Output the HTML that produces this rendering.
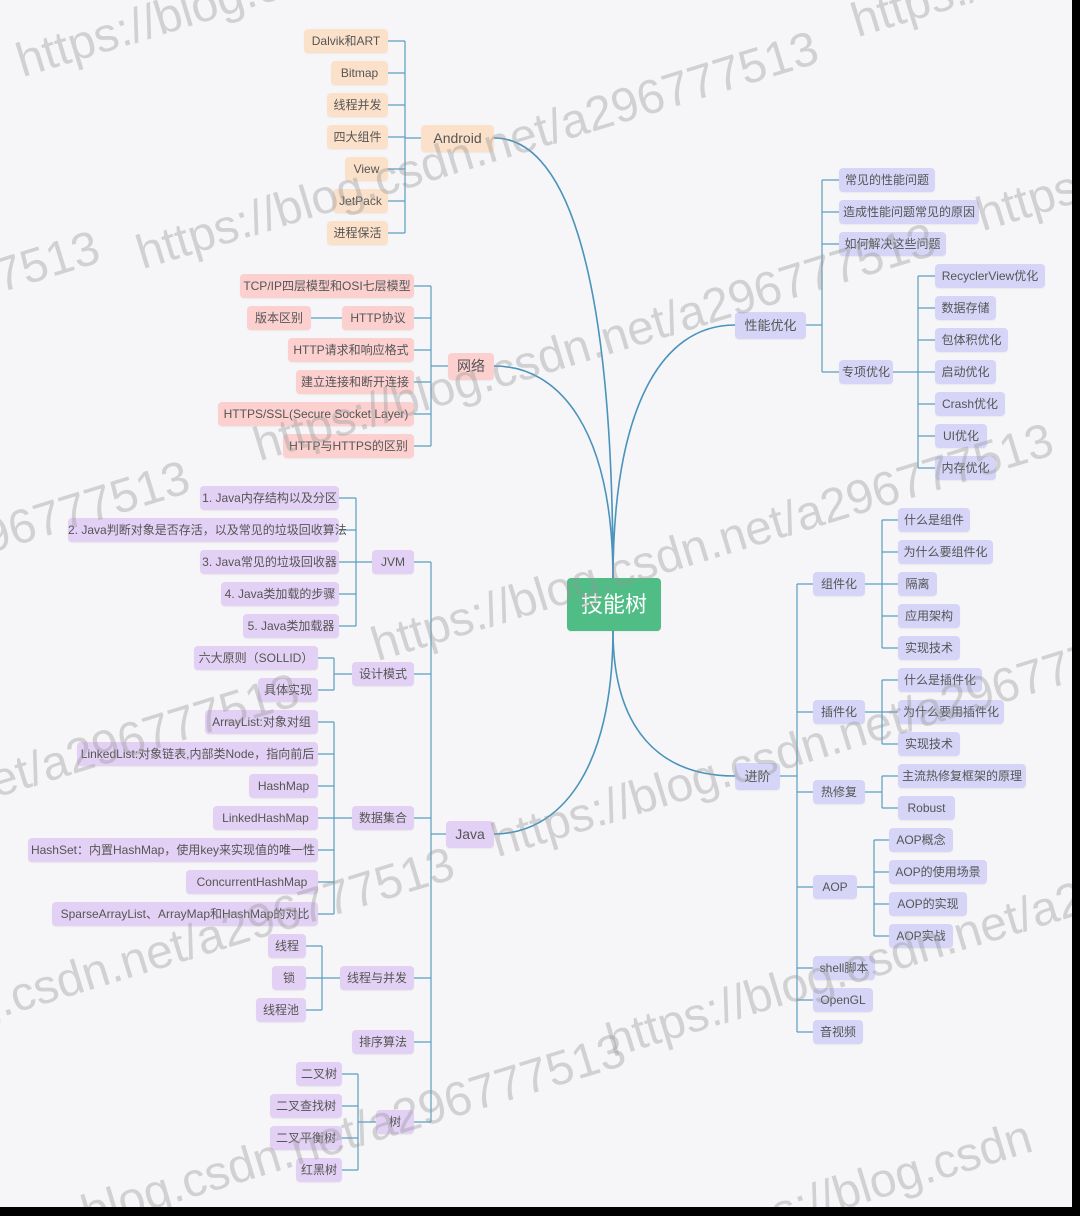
<!DOCTYPE html>
<html style="width:1080px;height:1216px;overflow:hidden;background:#f6f6f8"><head><meta charset="utf-8"><style>
html,body{margin:0;padding:0}
body{width:1080px;height:1216px;position:relative;overflow:hidden;background:#f6f6f8;font-family:"Liberation Sans","Noto Sans CJK SC",sans-serif}
.n{position:absolute;height:24px;line-height:24px;font-size:12px;color:#555;border-radius:4px;text-align:center;white-space:nowrap;box-shadow:0 1px 1px rgba(0,0,0,0.05)}
.a{background:#fbe1ca}.p{background:#fbd0cf}.j{background:#e3d1f5}.b{background:#d6d5f7}
.wm{position:absolute;font-size:48px;color:rgba(150,150,150,0.38);white-space:nowrap;transform-origin:0 100%;transform:rotate(-17deg);font-family:"Liberation Sans",sans-serif;line-height:1;z-index:5}
#edge-r{position:absolute;left:1072px;top:0;width:8px;height:1216px;background:#000;z-index:9}
#edge-b{position:absolute;left:0;top:1207px;width:1080px;height:9px;background:#000;z-index:9}
</style></head><body>
<svg width="1080" height="1216" style="position:absolute;left:0;top:0" fill="none" stroke="#5a9ec0" stroke-width="1.2">
<g stroke-width="1.6" stroke="#4a93bb">
<path d="M613,580 C613,250 560,138 494,138"/>
<path d="M613,580 C613,430 560,366 494,366"/>
<path d="M613,580 C613,410 660,325 735,325"/>
<path d="M613,630 C613,770 560,834 494,834"/>
<path d="M613,630 C613,730 660,776 735,776"/>
</g>
<path d="M405,41V233M421,138H405M388,41H405M388,73H405M388,105H405M388,137H405M388,169H405M388,201H405M388,233H405"/>
<path d="M431,286V446M448,366H431M414,286H431M414,318H431M414,350H431M414,382H431M414,414H431M414,446H431M311,318H342"/>
<path d="M356,498V626M372,562H356M339,498H356M339,530H356M339,562H356M339,594H356M339,626H356"/>
<path d="M334,658V690M352,674H334M318,658H334M318,690H334"/>
<path d="M334,722V914M352,818H334M318,722H334M318,754H334M318,786H334M318,818H334M318,850H334M318,882H334M318,914H334"/>
<path d="M322,946V1010M340,978H322M306,946H322M306,978H322M306,1010H322"/>
<path d="M358,1074V1170M376,1122H358M342,1074H358M342,1106H358M342,1138H358M342,1170H358"/>
<path d="M431,562V1122M446,834H431M414,562H431M414,674H431M414,818H431M414,978H431M414,1042H431M414,1122H431"/>
<path d="M822,180V372M806,325H822M822,180H839M822,212H839M822,244H839M822,372H839"/>
<path d="M918,276V468M893,372H918M918,276H935M918,308H935M918,340H935M918,372H935M918,404H935M918,436H935M918,468H935"/>
<path d="M797,584V1032M780,776H797M797,584H813M797,712H813M797,792H813M797,887H813M797,968H813M797,1000H813M797,1032H813"/>
<path d="M882,520V648M865,584H882M882,520H898M882,552H898M882,584H898M882,616H898M882,648H898"/>
<path d="M882,680V744M865,712H882M882,680H898M882,712H898M882,744H898"/>
<path d="M882,776V808M865,792H882M882,776H898M882,808H898"/>
<path d="M874,840V936M857,887H874M874,840H889M874,872H889M874,904H889M874,936H889"/>
</svg>

<div class="n" style="left:567px;top:578px;width:94px;height:53px;line-height:53px;background:#4fbd85;color:#fff;font-size:22px;border-radius:4px">技能树</div>

<div class="n a" style="left:421px;top:125px;width:73px;height:27px;line-height:27px;font-size:14px">Android</div>
<div class="n a" style="left:304px;top:29px;width:84px">Dalvik和ART</div>
<div class="n a" style="left:331px;top:61px;width:57px">Bitmap</div>
<div class="n a" style="left:327px;top:93px;width:61px">线程并发</div>
<div class="n a" style="left:327px;top:125px;width:61px">四大组件</div>
<div class="n a" style="left:345px;top:157px;width:43px">View</div>
<div class="n a" style="left:333px;top:189px;width:55px">JetPack</div>
<div class="n a" style="left:327px;top:221px;width:61px">进程保活</div>

<div class="n p" style="left:448px;top:353px;width:46px;height:27px;line-height:27px;font-size:14px">网络</div>
<div class="n p" style="left:240px;top:274px;width:174px">TCP/IP四层模型和OSI七层模型</div>
<div class="n p" style="left:342px;top:306px;width:72px">HTTP协议</div>
<div class="n p" style="left:247px;top:306px;width:64px">版本区别</div>
<div class="n p" style="left:288px;top:338px;width:126px">HTTP请求和响应格式</div>
<div class="n p" style="left:296px;top:370px;width:118px">建立连接和断开连接</div>
<div class="n p" style="left:218px;top:402px;width:196px">HTTPS/SSL(Secure Socket Layer)</div>
<div class="n p" style="left:283px;top:434px;width:131px">HTTP与HTTPS的区别</div>

<div class="n j" style="left:446px;top:821px;width:48px;height:27px;line-height:27px;font-size:14px">Java</div>
<div class="n j" style="left:372px;top:550px;width:42px">JVM</div>
<div class="n j" style="left:200px;top:486px;width:139px">1. Java内存结构以及分区</div>
<div class="n j" style="left:68px;top:518px;width:271px">2. Java判断对象是否存活，以及常见的垃圾回收算法</div>
<div class="n j" style="left:200px;top:550px;width:139px">3. Java常见的垃圾回收器</div>
<div class="n j" style="left:221px;top:582px;width:118px">4. Java类加载的步骤</div>
<div class="n j" style="left:243px;top:614px;width:96px">5. Java类加载器</div>
<div class="n j" style="left:352px;top:662px;width:62px">设计模式</div>
<div class="n j" style="left:194px;top:646px;width:124px">六大原则（SOLLID）</div>
<div class="n j" style="left:258px;top:678px;width:60px">具体实现</div>
<div class="n j" style="left:352px;top:806px;width:62px">数据集合</div>
<div class="n j" style="left:205px;top:710px;width:113px">ArrayList:对象对组</div>
<div class="n j" style="left:77px;top:742px;width:241px">LinkedList:对象链表,内部类Node，指向前后</div>
<div class="n j" style="left:249px;top:774px;width:69px">HashMap</div>
<div class="n j" style="left:213px;top:806px;width:105px">LinkedHashMap</div>
<div class="n j" style="left:28px;top:838px;width:290px">HashSet：内置HashMap，使用key来实现值的唯一性</div>
<div class="n j" style="left:186px;top:870px;width:132px">ConcurrentHashMap</div>
<div class="n j" style="left:52px;top:902px;width:266px">SparseArrayList、ArrayMap和HashMap的对比</div>
<div class="n j" style="left:340px;top:966px;width:74px">线程与并发</div>
<div class="n j" style="left:268px;top:934px;width:38px">线程</div>
<div class="n j" style="left:272px;top:966px;width:34px">锁</div>
<div class="n j" style="left:256px;top:998px;width:50px">线程池</div>
<div class="n j" style="left:352px;top:1030px;width:62px">排序算法</div>
<div class="n j" style="left:376px;top:1110px;width:38px">树</div>
<div class="n j" style="left:296px;top:1062px;width:46px">二叉树</div>
<div class="n j" style="left:270px;top:1094px;width:72px">二叉查找树</div>
<div class="n j" style="left:270px;top:1126px;width:72px">二叉平衡树</div>
<div class="n j" style="left:296px;top:1158px;width:46px">红黑树</div>

<div class="n b" style="left:735px;top:312px;width:71px;height:27px;line-height:27px;font-size:13px">性能优化</div>
<div class="n b" style="left:839px;top:168px;width:96px">常见的性能问题</div>
<div class="n b" style="left:839px;top:200px;width:140px">造成性能问题常见的原因</div>
<div class="n b" style="left:839px;top:232px;width:107px">如何解决这些问题</div>
<div class="n b" style="left:839px;top:360px;width:54px">专项优化</div>
<div class="n b" style="left:935px;top:264px;width:110px">RecyclerView优化</div>
<div class="n b" style="left:935px;top:296px;width:61px">数据存储</div>
<div class="n b" style="left:935px;top:328px;width:73px">包体积优化</div>
<div class="n b" style="left:935px;top:360px;width:61px">启动优化</div>
<div class="n b" style="left:935px;top:392px;width:70px">Crash优化</div>
<div class="n b" style="left:935px;top:424px;width:52px">UI优化</div>
<div class="n b" style="left:935px;top:456px;width:61px">内存优化</div>

<div class="n b" style="left:735px;top:763px;width:45px;height:27px;line-height:27px;font-size:13px">进阶</div>
<div class="n b" style="left:813px;top:572px;width:52px">组件化</div>
<div class="n b" style="left:898px;top:508px;width:72px">什么是组件</div>
<div class="n b" style="left:898px;top:540px;width:95px">为什么要组件化</div>
<div class="n b" style="left:898px;top:572px;width:39px">隔离</div>
<div class="n b" style="left:898px;top:604px;width:62px">应用架构</div>
<div class="n b" style="left:898px;top:636px;width:62px">实现技术</div>
<div class="n b" style="left:813px;top:700px;width:52px">插件化</div>
<div class="n b" style="left:898px;top:668px;width:84px">什么是插件化</div>
<div class="n b" style="left:898px;top:700px;width:106px">为什么要用插件化</div>
<div class="n b" style="left:898px;top:732px;width:62px">实现技术</div>
<div class="n b" style="left:813px;top:780px;width:52px">热修复</div>
<div class="n b" style="left:898px;top:764px;width:128px">主流热修复框架的原理</div>
<div class="n b" style="left:898px;top:796px;width:57px">Robust</div>
<div class="n b" style="left:813px;top:875px;width:44px">AOP</div>
<div class="n b" style="left:889px;top:828px;width:64px">AOP概念</div>
<div class="n b" style="left:889px;top:860px;width:98px">AOP的使用场景</div>
<div class="n b" style="left:889px;top:892px;width:78px">AOP的实现</div>
<div class="n b" style="left:889px;top:924px;width:64px">AOP实战</div>
<div class="n b" style="left:813px;top:956px;width:62px">shell脚本</div>
<div class="n b" style="left:813px;top:988px;width:60px">OpenGL</div>
<div class="n b" style="left:813px;top:1020px;width:50px">音视频</div>

<div class="wm" style="left:25px;top:38px">https://blog.csdn.net/a296777513</div>
<div class="wm" style="left:860px;top:-2px">https://blog</div>
<div class="wm" style="left:145px;top:230px">https://blog.csdn.net/a296777513</div>
<div class="wm" style="left:-150px;top:300px">a296777513</div>
<div class="wm" style="left:262px;top:422px">https://blog.csdn.net/a296777513</div>
<div class="wm" style="left:985px;top:192px">https://</div>
<div class="wm" style="left:-60px;top:530px">a296777513</div>
<div class="wm" style="left:380px;top:622px">https://blog.csdn.net/a296777513</div>
<div class="wm" style="left:-40px;top:770px">.net/a296777513</div>
<div class="wm" style="left:500px;top:818px">https://blog.csdn.net/a296777513</div>
<div class="wm" style="left:-20px;top:985px">g.csdn.net/a296777513</div>
<div class="wm" style="left:615px;top:1018px">https://blog.csdn.net/a296777513</div>
<div class="wm" style="left:90px;top:1190px">blog.csdn.net/a296777513</div>
<div class="wm" style="left:780px;top:1190px">s://blog.csdn</div>

<div id="edge-r"></div><div id="edge-b"></div>
</body></html>
